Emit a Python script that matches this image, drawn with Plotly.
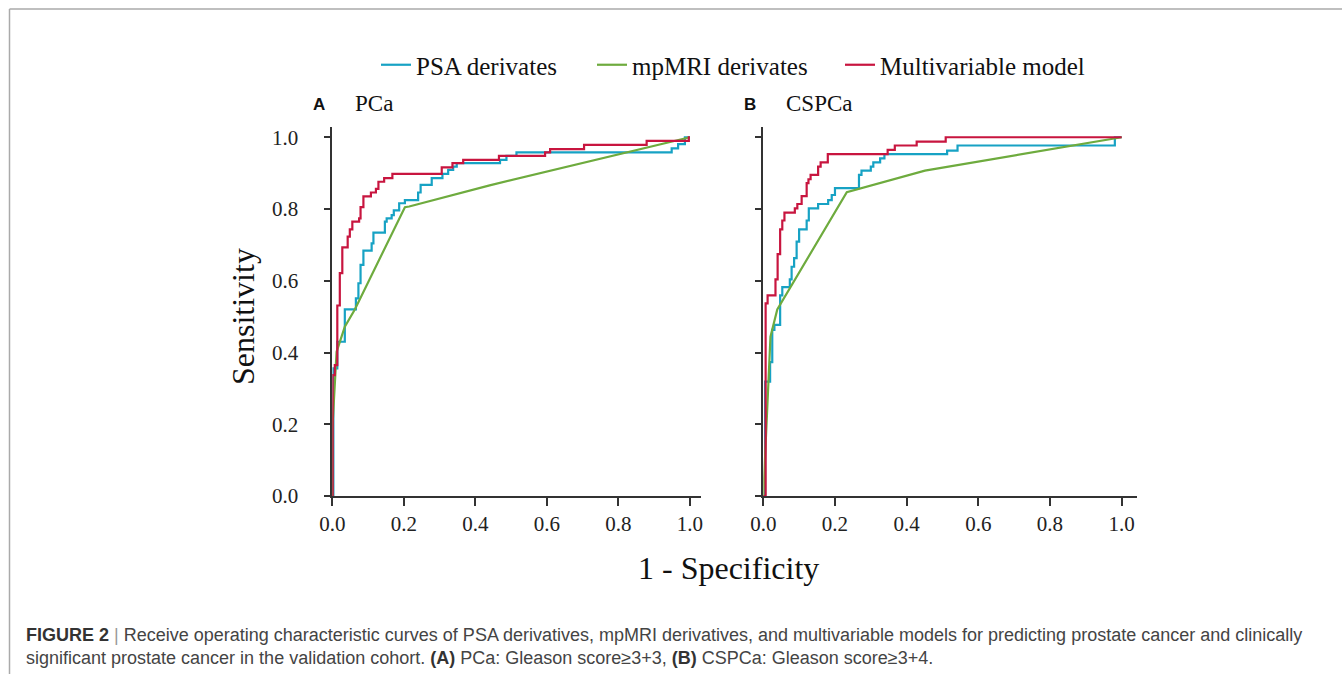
import plotly.graph_objects as go

W, H = 1342, 674

# ---------------- data ----------------
series_names = ["PSA derivates", "mpMRI derivates", "Multivariable model"]
series_colors = ["#17a2c4", "#6eab3e", "#c8153f"]

# Panel A: PCa
a_psa_fpr = [0, 0.003, 0.014, 0.035, 0.066, 0.073, 0.079, 0.087, 0.110, 0.115, 0.147, 0.152, 0.166,
             0.172, 0.187, 0.203, 0.240, 0.247, 0.278, 0.308, 0.324, 0.338, 0.348, 0.469, 0.487,
             0.515, 0.949, 0.967, 0.986, 1.0]
a_psa_tpr = [0, 0.356, 0.430, 0.520, 0.551, 0.593, 0.644, 0.684, 0.704, 0.734, 0.765, 0.774, 0.783,
             0.796, 0.816, 0.825, 0.846, 0.867, 0.886, 0.898, 0.909, 0.918, 0.928, 0.937, 0.948,
             0.958, 0.969, 0.981, 1.0, 1.0]
a_mri_fpr = [0, 0.0, 0.012, 0.035, 0.063, 0.203, 0.215, 0.44, 1.0]
a_mri_tpr = [0, 0.184, 0.402, 0.472, 0.520, 0.805, 0.807, 0.866, 1.0]
a_mv_fpr = [0, 0.001, 0.007, 0.014, 0.021, 0.028, 0.043, 0.049, 0.056, 0.075, 0.079, 0.087, 0.108,
            0.122, 0.129, 0.145, 0.168, 0.306, 0.336, 0.366, 0.466, 0.595, 0.609, 0.704, 0.879,
            0.997, 1.0]
a_mv_tpr = [0, 0.337, 0.365, 0.531, 0.621, 0.693, 0.723, 0.743, 0.765, 0.774, 0.805, 0.835, 0.846,
            0.856, 0.876, 0.886, 0.898, 0.916, 0.928, 0.937, 0.948, 0.958, 0.967, 0.979, 0.990,
            1.0, 1.0]

# Panel B: CSPCa
b_psa_fpr = [0, 0.005, 0.019, 0.025, 0.031, 0.047, 0.053, 0.074, 0.079, 0.086, 0.093, 0.100, 0.121,
             0.127, 0.153, 0.181, 0.191, 0.200, 0.267, 0.274, 0.300, 0.307, 0.326, 0.338, 0.513,
             0.542, 0.981, 1.0]
b_psa_tpr = [0, 0.319, 0.373, 0.463, 0.477, 0.559, 0.582, 0.604, 0.639, 0.663, 0.709, 0.743, 0.768,
             0.802, 0.814, 0.825, 0.839, 0.858, 0.895, 0.907, 0.918, 0.930, 0.941, 0.953, 0.963,
             0.977, 1.0, 1.0]
b_mri_fpr = [0, 0.014, 0.020, 0.039, 0.233, 0.451, 1.0]
b_mri_tpr = [0, 0.333, 0.444, 0.520, 0.847, 0.907, 1.0]
b_mv_fpr = [0, 0.0065, 0.012, 0.034, 0.040, 0.047, 0.053, 0.059, 0.088, 0.095, 0.107, 0.121, 0.126,
            0.132, 0.153, 0.160, 0.180, 0.347, 0.367, 0.428, 0.509, 1.0]
b_mv_tpr = [0, 0.537, 0.559, 0.604, 0.674, 0.743, 0.768, 0.790, 0.802, 0.814, 0.836, 0.872, 0.883,
            0.895, 0.918, 0.930, 0.953, 0.965, 0.977, 0.988, 1.0, 1.0]

tick_vals = [0.0, 0.2, 0.4, 0.6, 0.8, 1.0]
tick_text = ["0.0", "0.2", "0.4", "0.6", "0.8", "1.0"]

panels = [
    ("x", "y", [(a_psa_fpr, a_psa_tpr), (a_mri_fpr, a_mri_tpr), (a_mv_fpr, a_mv_tpr)]),
    ("x2", "y2", [(b_psa_fpr, b_psa_tpr), (b_mri_fpr, b_mri_tpr), (b_mv_fpr, b_mv_tpr)]),
]
shapes_line = ["hv", "linear", "hv"]
legend_ids = ["legend", "legend2", "legend3"]

fig = go.Figure()
for pi, (xa, ya, curves) in enumerate(panels):
    for si, (fx, ty) in enumerate(curves):
        fig.add_trace(go.Scatter(
            x=fx, y=ty, mode="lines", name=series_names[si],
            line=dict(color=series_colors[si], width=2.2, shape=shapes_line[si]),
            xaxis=xa, yaxis=ya, legendgroup=series_names[si], showlegend=(pi == 0),
            legend=legend_ids[si], hoverinfo="skip"))

def px(x):
    return x / W

def py(y):
    return 1 - y / H

serif = "Liberation Serif, Times New Roman, serif"
axcol = "#333333"
common_x = dict(showline=True, linecolor=axcol, linewidth=1.6, ticks="outside", ticklen=8,
                tickwidth=1.6, tickcolor=axcol, showgrid=False, zeroline=False, automargin=False,
                tickvals=tick_vals, ticktext=tick_text, ticklabelstandoff=0,
                tickfont=dict(family=serif, size=21, color="#222222"))
common_y = dict(showline=True, linecolor=axcol, linewidth=1.6, ticks="outside", ticklen=7,
                tickwidth=1.6, tickcolor=axcol, showgrid=False, zeroline=False, automargin=False,
                tickvals=tick_vals, ticktext=tick_text, ticklabelstandoff=21,
                tickfont=dict(family=serif, size=21, color="#222222"))

leg_common = dict(orientation="h", yanchor="middle", xanchor="left",
                  font=dict(family=serif, size=25, color="#111111"),
                  bgcolor="rgba(0,0,0,0)", borderwidth=0)

fig.update_layout(
    width=W, height=H,
    margin=dict(l=0, r=0, t=0, b=0, pad=0, autoexpand=False),
    paper_bgcolor="white", plot_bgcolor="white",
    xaxis=dict(domain=[px(332.3), px(701)], range=[0, 1.031], anchor="y", **common_x),
    yaxis=dict(domain=[py(496), py(126.5)], range=[0, 1.03], anchor="x", **common_y),
    xaxis2=dict(domain=[px(763.3), px(1136.7)], range=[0, 1.042], anchor="y2", **common_x),
    yaxis2=dict(domain=[py(496), py(126.5)], range=[0, 1.03], anchor="x2",
                showticklabels=False, **common_y),
    showlegend=True,
    legend=dict(leg_common, x=px(376), y=py(65)),
    legend2=dict(leg_common, x=px(592), y=py(65)),
    legend3=dict(leg_common, x=px(840), y=py(65)),
)

annotations = [
    dict(text="<b>A</b>", x=px(319), y=py(104), font=dict(family="Liberation Sans, Arial", size=17, color="#111")),
    dict(text="PCa", x=px(374), y=py(103), font=dict(family=serif, size=23, color="#111")),
    dict(text="<b>B</b>", x=px(750), y=py(104), font=dict(family="Liberation Sans, Arial", size=17, color="#111")),
    dict(text="CSPCa", x=px(819), y=py(103), font=dict(family=serif, size=23, color="#111")),
    dict(text="1 - Specificity", x=px(729), y=py(568), font=dict(family=serif, size=32, color="#111")),
    dict(text="Sensitivity", x=px(243), y=py(317), textangle=-90, font=dict(family=serif, size=32, color="#111")),
]
for a in annotations:
    a.update(xref="paper", yref="paper", showarrow=False, xanchor="center", yanchor="middle")

cap_font = dict(family="Liberation Sans, Arial", size=18, color="#444444")
annotations.append(dict(
    text="<b style='color:#333'>FIGURE 2</b> <span style='color:#999'>|</span> Receive operating characteristic curves of PSA derivatives, mpMRI derivatives, and multivariable models for predicting prostate cancer and clinically",
    x=px(24), y=py(635), xref="paper", yref="paper", showarrow=False, xanchor="left", yanchor="middle",
    font=cap_font))
annotations.append(dict(
    text="significant prostate cancer in the validation cohort. <b style='color:#333'>(A)</b> PCa: Gleason score\u22653+3, <b style='color:#333'>(B)</b> CSPCa: Gleason score\u22653+4.",
    x=px(24), y=py(658), xref="paper", yref="paper", showarrow=False, xanchor="left", yanchor="middle",
    font=cap_font))
fig.update_layout(annotations=annotations)

frame = dict(type="line", xref="paper", yref="paper", line=dict(color="#aaaaaa", width=1.5))
fig.update_layout(shapes=[
    dict(frame, x0=px(9.5), x1=1.0, y0=py(9), y1=py(9)),
    dict(frame, x0=px(9.5), x1=px(9.5), y0=py(9), y1=0.0),
])

fig.write_html("out.html", config={"displayModeBar": False},
               post_script="document.body.style.margin='0';document.body.style.overflow='hidden';")
